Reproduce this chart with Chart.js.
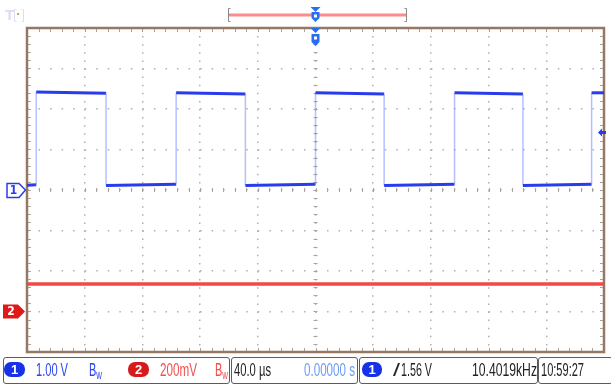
<!DOCTYPE html>
<html>
<head>
<meta charset="utf-8">
<script src="https://cdn.jsdelivr.net/npm/chart.js@4.4.1/dist/chart.umd.min.js"></script>
<style>
  body { margin: 0; background: #fff; width: 611px; height: 385px; overflow: hidden; position: relative;
         font-family: "Liberation Sans", Arial, sans-serif; }
  #scope { position: absolute; left: 0; top: 0; }
  .box { position: absolute; top: 357px; height: 27px; border: 1.5px solid #5c5c5c; border-radius: 3px; box-sizing: border-box; }
  .lab { position: absolute; top: 360px; font-size: 18px; line-height: 20px; white-space: nowrap; transform-origin: 0 0; }
  .pill { position: absolute; top: 362px; height: 15px; border-radius: 7px; color: #fff; font-weight: bold;
          font-size: 13px; line-height: 15px; text-align: center; }
  .lab sub { font-size: 13px; vertical-align: -3px; }
</style>
</head>
<body>
<canvas id="scope" width="611" height="385"></canvas>

<div class="box" style="left:3px;width:227px"></div>
<div class="box" style="left:231px;width:127px"></div>
<div class="box" style="left:359px;width:179px"></div>
<div class="box" style="left:538px;width:75px"></div>

<div class="pill" style="left:4px;width:21px;background:#1632e6">1</div>
<div class="lab" data-w="32" style="left:36px;color:#2c46f0">1.00 V</div>
<div class="lab" data-w="13" style="left:89px;color:#2c46f0">B<sub>w</sub></div>
<div class="pill" style="left:128px;width:21px;background:#d41c1c">2</div>
<div class="lab" data-w="37" style="left:160px;color:#f05050">200mV</div>
<div class="lab" data-w="13" style="left:215px;color:#f05050">B<sub>w</sub></div>

<div class="lab" data-w="37" style="left:234px;color:#222">40.0 µs</div>
<div class="lab" data-w="51" style="left:304px;color:#6a9af5">0.00000 s</div>

<div class="pill" style="left:362px;width:20px;background:#1632e6">1</div>
<div class="lab" data-w="7" style="left:393px;color:#222">/</div>
<div class="lab" data-w="31" style="left:401px;color:#222">1.56 V</div>
<div class="lab" data-w="65" style="left:472px;color:#222">10.4019kHz</div>
<div class="lab" data-w="43" style="left:541px;color:#222">10:59:27</div>

<script>
// scope settings
const timePerDiv = 40;      // µs / div
const ch1VoltsPerDiv = 1.0; // V / div
const ch2MvPerDiv = 200;    // mV / div
const ch2OffsetDiv = -3;    // ch2 ground, divisions from centre
const trigMarkVolts = 1.42; // where the trigger level arrow sits

// channel 1: square wave (µs, V)
const ch1TimeUs = [-200, -193.6, -193.6, -145.2, -145.2, -96.6, -96.6, -48.6, -48.6, 0, 0, 47.6, 47.6, 96.4, 96.4, 143.8, 143.8, 191.4, 191.4, 200];
const ch1Volts  = [0.12, 0.13, 2.42, 2.39, 0.11, 0.14, 2.40, 2.37, 0.11, 0.14, 2.40, 2.37, 0.11, 0.14, 2.40, 2.37, 0.11, 0.14, 2.40, 2.40];

// channel 2: flat line (µs, mV)
const ch2TimeUs = [-200, 0, 200];
const ch2MilliVolts = [136, 136, 136];

const toPoints = (xs, ys) => xs.map((t, i) => ({ x: t, y: ys[i] }));

const blue = 'rgb(40,60,236)';
const blueEdge = 'rgba(120,140,255,0.55)';
const gridCol = '#b0b0b0';

const scopeDecor = {
  id: 'scopeDecor',
  beforeDatasetsDraw(chart) {
    const { ctx, chartArea: a, scales: { x, y } } = chart;
    const cx = x.getPixelForValue(0), cy = y.getPixelForValue(0);
    ctx.save();
    ctx.strokeStyle = '#aaa49f';
    ctx.lineWidth = 1;
    ctx.beginPath();
    for (let t = -5 * timePerDiv; t <= 5 * timePerDiv; t += timePerDiv / 5) {
      const px = Math.round(x.getPixelForValue(t)) + 0.5;
      ctx.moveTo(px, a.top); ctx.lineTo(px, a.top + 4);
      ctx.moveTo(px, a.bottom); ctx.lineTo(px, a.bottom - 4);
      ctx.moveTo(px, cy - 2); ctx.lineTo(px, cy + 2);
    }
    for (let v = -4; v <= 4; v += 0.2) {
      const py = Math.round(y.getPixelForValue(v * ch1VoltsPerDiv)) + 0.5;
      ctx.moveTo(a.left, py); ctx.lineTo(a.left + 4, py);
      ctx.moveTo(a.right, py); ctx.lineTo(a.right - 4, py);
      ctx.moveTo(cx - 2, py); ctx.lineTo(cx + 2, py);
    }
    ctx.stroke();
    // frame
    ctx.strokeStyle = '#957763';
    ctx.lineWidth = 2.5;
    ctx.strokeRect(a.left, a.top, a.width, a.height);
    ctx.restore();
  },
  afterDraw(chart) {
    const { ctx, scales: { x, y, y2 } } = chart;
    ctx.save();
    // channel 1 ground marker
    let gy = y.getPixelForValue(0);
    ctx.fillStyle = '#fff';
    ctx.strokeStyle = blue;
    ctx.lineWidth = 1.5;
    ctx.beginPath();
    ctx.moveTo(7, gy - 6.5); ctx.lineTo(19, gy - 6.5); ctx.lineTo(25.5, gy); ctx.lineTo(19, gy + 7.5); ctx.lineTo(7, gy + 7.5); ctx.closePath();
    ctx.fill(); ctx.stroke();
    ctx.fillStyle = blue;
    ctx.font = 'bold 12px "DejaVu Sans Condensed", sans-serif';
    ctx.textAlign = 'center'; ctx.textBaseline = 'middle';
    ctx.fillText('1', 13.5, gy + 1);
    // channel 2 ground marker
    gy = y2.getPixelForValue(0);
    ctx.fillStyle = '#e01818';
    ctx.beginPath();
    ctx.moveTo(3, gy - 7); ctx.lineTo(18, gy - 7); ctx.lineTo(25, gy); ctx.lineTo(18, gy + 7); ctx.lineTo(3, gy + 7); ctx.closePath();
    ctx.fill();
    ctx.fillStyle = '#fff';
    ctx.fillText('2', 11, gy + 0.5);
    // trigger level arrow (right)
    const ty = y.getPixelForValue(trigMarkVolts);
    ctx.fillStyle = blue;
    ctx.beginPath();
    ctx.moveTo(598, ty); ctx.lineTo(602, ty - 4); ctx.lineTo(602, ty - 1.5); ctx.lineTo(606, ty - 1.5);
    ctx.lineTo(606, ty + 1.5); ctx.lineTo(602, ty + 1.5); ctx.lineTo(602, ty + 4); ctx.closePath();
    ctx.fill();
    // record bar at top
    ctx.strokeStyle = 'rgb(250,140,140)';
    ctx.lineWidth = 3;
    ctx.beginPath(); ctx.moveTo(228, 15); ctx.lineTo(407, 15); ctx.stroke();
    ctx.strokeStyle = '#8a8a8a'; ctx.lineWidth = 1;
    ctx.beginPath();
    ctx.moveTo(230.5, 8.5); ctx.lineTo(228.5, 8.5); ctx.lineTo(228.5, 21.5); ctx.lineTo(230.5, 21.5);
    ctx.moveTo(404.5, 8.5); ctx.lineTo(406.5, 8.5); ctx.lineTo(406.5, 21.5); ctx.lineTo(404.5, 21.5);
    ctx.stroke();
    // trigger position markers
    const tx = x.getPixelForValue(0);
    [[7, 0], [28, 1]].forEach(([top, lower]) => {
      ctx.fillStyle = 'rgb(40,110,245)';
      ctx.beginPath();
      ctx.moveTo(tx - 5, top); ctx.lineTo(tx + 5, top); ctx.lineTo(tx, top + 5); ctx.closePath(); ctx.fill();
      const s = top + 5 + lower;
      ctx.beginPath();
      ctx.moveTo(tx - 4, s); ctx.lineTo(tx + 4, s); ctx.lineTo(tx + 4, s + 6 + lower * 2); ctx.lineTo(tx, s + 10 + lower * 2);
      ctx.lineTo(tx - 4, s + 6 + lower * 2); ctx.closePath(); ctx.fill();
      ctx.fillStyle = '#fff';
      ctx.fillRect(tx - 1.5, s + 2.5, 3, 3);
    });
    // faint T icon
    ctx.fillStyle = '#dcdcf2';
    ctx.font = 'bold 15px "Liberation Sans", sans-serif';
    ctx.textAlign = 'left';
    ctx.fillText('T', 5, 16);
    ctx.strokeStyle = '#dcdcf2'; ctx.lineWidth = 1;
    ctx.beginPath(); ctx.moveTo(16.5, 9.5); ctx.lineTo(14.5, 9.5); ctx.lineTo(14.5, 21.5); ctx.lineTo(16.5, 21.5);
    ctx.moveTo(21.5, 9.5); ctx.lineTo(23.5, 9.5); ctx.lineTo(23.5, 21.5); ctx.lineTo(21.5, 21.5); ctx.stroke();
    ctx.fillStyle = '#c8a070';
    ctx.fillRect(17, 13, 2, 2);
    ctx.restore();
  }
};

new Chart(document.getElementById('scope'), {
  type: 'line',
  data: {
    datasets: [
      {
        label: 'CH2',
        data: toPoints(ch2TimeUs, ch2MilliVolts),
        yAxisID: 'y2',
        borderColor: 'rgb(246,70,70)',
        borderWidth: 3.5
      },
      {
        label: 'CH1',
        data: toPoints(ch1TimeUs, ch1Volts),
        yAxisID: 'y',
        borderColor: blue,
        borderWidth: 3,
        segment: {
          borderColor: c => c.p0.parsed.x === c.p1.parsed.x ? blueEdge : blue,
          borderWidth: c => c.p0.parsed.x === c.p1.parsed.x ? 1.5 : 3
        }
      }
    ]
  },
  options: {
    responsive: false,
    animation: false,
    layout: { padding: { left: 27, top: 28, right: 7, bottom: 33 } },
    elements: { point: { radius: 0 }, line: { tension: 0, borderCapStyle: 'butt' } },
    plugins: { legend: { display: false }, tooltip: { enabled: false } },
    scales: {
      x: {
        type: 'linear',
        min: -5 * timePerDiv, max: 5 * timePerDiv,
        ticks: { display: false, stepSize: timePerDiv },
        grid: { color: gridCol, lineWidth: 1.5, drawTicks: false },
        border: { display: false, dash: [1.5, 6.6] }
      },
      y: {
        min: -4 * ch1VoltsPerDiv, max: 4 * ch1VoltsPerDiv,
        ticks: { display: false, stepSize: ch1VoltsPerDiv },
        grid: { color: gridCol, lineWidth: 1.5, drawTicks: false },
        border: { display: false, dash: [1.5, 10.04] }
      },
      y2: {
        display: false,
        min: (-4 - ch2OffsetDiv) * ch2MvPerDiv,
        max: (4 - ch2OffsetDiv) * ch2MvPerDiv
      }
    }
  },
  plugins: [scopeDecor]
});

document.querySelectorAll('.lab').forEach(el => {
  const w = el.getBoundingClientRect().width;
  el.style.transform = 'scaleX(' + (el.dataset.w / w) + ')';
});
</script>
</body>
</html>
